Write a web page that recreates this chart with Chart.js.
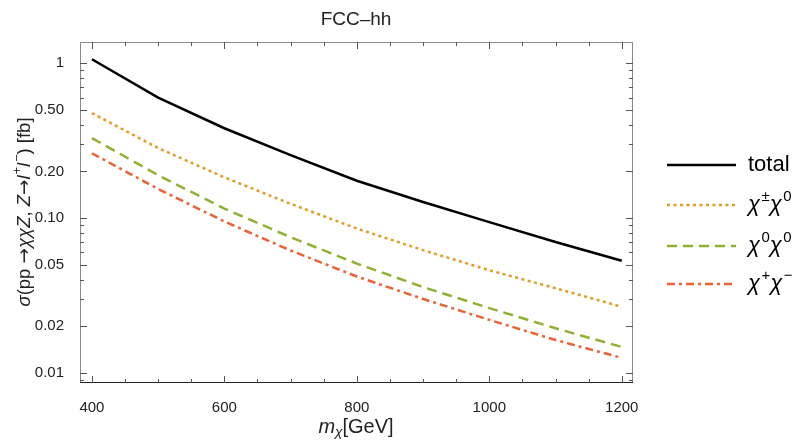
<!DOCTYPE html>
<html>
<head>
<meta charset="utf-8">
<title>FCC-hh</title>
<script src="https://cdn.jsdelivr.net/npm/chart.js@4/dist/chart.umd.min.js"></script>
<style>
  body { margin: 0; background: #fff; }
  canvas { display: block; }
</style>
</head>
<body>
<canvas id="xsecCanvas" width="795" height="441"></canvas>
<script>
// values (fb)
var mass = [400, 500, 600, 700, 800, 900, 1000, 1100, 1200];
var total = [1.06, 0.60, 0.38, 0.255, 0.174, 0.127, 0.094, 0.070, 0.053];
var chargedNeutral = [0.476, 0.283, 0.183, 0.1235, 0.0855, 0.062, 0.046, 0.0352, 0.0267];
var neutralNeutral = [0.328, 0.189, 0.115, 0.0752, 0.0508, 0.0358, 0.0262, 0.0194, 0.0147];
var chargedPair = [0.262, 0.154, 0.095, 0.0617, 0.0419, 0.0300, 0.0220, 0.0163, 0.0125];

var xTicks = [400, 600, 800, 1000, 1200];
var yTicks = [0.01, 0.02, 0.05, 0.1, 0.2, 0.5, 1];
var yTickLabels = ['0.01', '0.02', '0.05', '0.10', '0.20', '0.50', '1'];

var FONT = "'Liberation Sans', Arial, sans-serif";
var ARROW_FONT = "'DejaVu Sans', sans-serif";

function pts(ys) {
    var out = [];
    for (var i = 0; i < mass.length; i++) {
        out.push({ x: mass[i], y: ys[i] });
    }
    return out;
}

// draw a run of text pieces (italic / superscript / subscript)
function drawRich(ctx, runs, x, y, size, align) {
    var w = 0;
    runs.forEach(function (r) {
        var s = (r.sup || r.sub) ? size * 0.68 : size;
        r.font = (r.it ? 'italic ' : '') + s + 'px ' + (r.fam || FONT);
        ctx.font = r.font;
        r.w = ctx.measureText(r.t).width + (r.gap || 0);
        w += r.w;
    });
    var cx = align === 'center' ? x - w / 2 : x;
    runs.forEach(function (r) {
        ctx.font = r.font;
        var dy = r.sup ? -size * 0.38 : (r.sub ? size * 0.28 : 0);
        ctx.fillText(r.t, cx, y + dy);
        cx += r.w;
    });
}

var legendItems = [
    { color: '#000000', dash: [], runs: [{ t: 'total' }] },
    { color: '#E19C24', dash: [3, 3.5], runs: [{ t: 'χ', it: true, gap: 1.5 }, { t: '±', sup: true }, { t: 'χ', it: true, gap: 1.5 }, { t: '0', sup: true }] },
    { color: '#8FB032', dash: [10, 6], runs: [{ t: 'χ', it: true, gap: 1.5 }, { t: '0', sup: true }, { t: 'χ', it: true, gap: 1.5 }, { t: '0', sup: true }] },
    { color: '#EB6235', dash: [8, 4, 3, 4], runs: [{ t: 'χ', it: true, gap: 1.5 }, { t: '+', sup: true }, { t: 'χ', it: true, gap: 1.5 }, { t: '−', sup: true }] }
];
var legendY = [165, 205, 246, 284];

var decorPlugin = {
    id: 'decor',
    afterDraw: function (chart) {
        var ctx = chart.ctx, a = chart.chartArea;
        var xs = chart.scales.x, ys = chart.scales.y;
        ctx.save();

        // frame
        ctx.strokeStyle = '#8a8a8a';
        ctx.lineWidth = 1;
        ctx.strokeRect(a.left + 0.5, a.top + 0.5, a.right - a.left - 1, a.bottom - a.top - 1);
        ctx.strokeStyle = '#222';
        ctx.beginPath();
        ctx.moveTo(a.left, a.bottom - 0.5);
        ctx.lineTo(a.right, a.bottom - 0.5);
        ctx.stroke();

        // inward ticks
        ctx.strokeStyle = '#555';
        ctx.beginPath();
        for (var v = 400; v <= 1200; v += 50) {
            var px = Math.round(xs.getPixelForValue(v)) + 0.5;
            var len = (v % 200 === 0) ? 7 : 4;
            ctx.moveTo(px, a.bottom); ctx.lineTo(px, a.bottom - len);
            ctx.moveTo(px, a.top); ctx.lineTo(px, a.top + len);
        }
        for (var d = -3; d <= 0; d++) {
            for (var k = 1; k <= 9; k++) {
                var val = k * Math.pow(10, d);
                if (val < ys.min || val > ys.max) continue;
                var py = Math.round(ys.getPixelForValue(val)) + 0.5;
                var major = yTicks.some(function (t) { return Math.abs(t - val) < 1e-9; });
                var l2 = major ? 7 : 4;
                ctx.moveTo(a.left, py); ctx.lineTo(a.left + l2, py);
                ctx.moveTo(a.right, py); ctx.lineTo(a.right - l2, py);
            }
        }
        ctx.stroke();

        // title
        ctx.fillStyle = '#222';
        ctx.textBaseline = 'middle';
        ctx.textAlign = 'left';
        drawRich(ctx, [{ t: 'FCC–hh' }], 356, 20, 19, 'center');

        // x-axis title
        drawRich(ctx, [{ t: 'm', it: true }, { t: 'χ', it: true, sub: true }, { t: '[GeV]' }], 356, 427, 20, 'center');

        // y-axis title
        ctx.save();
        ctx.translate(25, 212);
        ctx.rotate(-Math.PI / 2);
        drawRich(ctx, [
            { t: 'σ', it: true }, { t: '(pp ' }, { t: '→', fam: ARROW_FONT }, { t: 'χχZ', it: true }, { t: ', ' },
            { t: 'Z', it: true }, { t: '→', fam: ARROW_FONT }, { t: 'l', it: true, gap: 1 }, { t: '+', sup: true },
            { t: 'l', it: true, gap: 1 }, { t: '−', sup: true }, { t: ') [fb]' }
        ], 0, 0, 18.5, 'center');
        ctx.restore();

        // legend
        legendItems.forEach(function (item, i) {
            var y = legendY[i];
            ctx.strokeStyle = item.color;
            ctx.lineWidth = 2.5;
            ctx.setLineDash(item.dash);
            ctx.beginPath();
            ctx.moveTo(667, y);
            ctx.lineTo(736, y);
            ctx.stroke();
            ctx.setLineDash([]);
            ctx.fillStyle = '#000';
            drawRich(ctx, item.runs, 748, y, 22, 'left');
        });

        ctx.restore();
    }
};

function lineSet(label, ys, color, dash) {
    return {
        label: label,
        data: pts(ys),
        borderColor: color,
        borderWidth: 2.5,
        borderDash: dash,
        borderCapStyle: 'butt',
        pointRadius: 0,
        tension: 0,
        fill: false
    };
}

var chart = new Chart(document.getElementById('xsecCanvas'), {
    type: 'line',
    data: {
        datasets: [
            lineSet('total', total, '#000000', []),
            lineSet('χ±χ0', chargedNeutral, '#E19C24', [3, 3.5]),
            lineSet('χ0χ0', neutralNeutral, '#8FB032', [10, 6]),
            lineSet('χ+χ−', chargedPair, '#EB6235', [8, 4, 3, 4])
        ]
    },
    options: {
        responsive: false,
        animation: false,
        layout: { padding: { top: 42, right: 162, left: 0, bottom: 0 } },
        plugins: {
            legend: { display: false },
            tooltip: { enabled: false },
            title: { display: false }
        },
        scales: {
            x: {
                type: 'linear',
                min: 382,
                max: 1217,
                grid: { display: false },
                border: { display: false },
                afterBuildTicks: function (scale) {
                    scale.ticks = xTicks.map(function (v) { return { value: v }; });
                },
                afterFit: function (scale) { scale.height = 58; },
                ticks: {
                    padding: 8,
                    color: '#222',
                    maxRotation: 0,
                    font: { family: FONT, size: 15 },
                    callback: function (v) { return String(v); }
                }
            },
            y: {
                type: 'logarithmic',
                min: 0.0086,
                max: 1.37,
                grid: { display: false },
                border: { display: false },
                afterBuildTicks: function (scale) {
                    scale.ticks = yTicks.map(function (v) { return { value: v }; });
                },
                afterFit: function (scale) { scale.width = 80; },
                ticks: {
                    padding: 8,
                    color: '#222',
                    font: { family: FONT, size: 15 },
                    callback: function (v) {
                        var i = yTicks.indexOf(v);
                        return i >= 0 ? yTickLabels[i] : '';
                    }
                }
            }
        }
    },
    plugins: [decorPlugin]
});
</script>
</body>
</html>
